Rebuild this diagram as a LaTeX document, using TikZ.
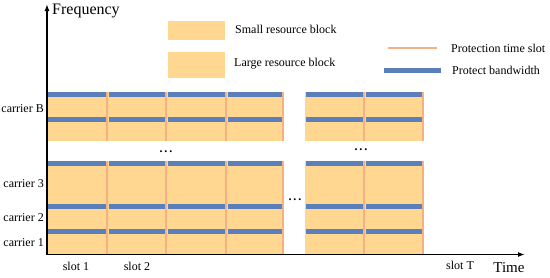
\documentclass[tikz,border=0pt]{standalone}
\usepackage{fontspec}
\setmainfont{Liberation Serif}
\usetikzlibrary{positioning,arrows.meta}
\definecolor{blockfill}{RGB}{255,215,145}
\definecolor{bandblue}{RGB}{91,127,186}
\definecolor{slotline}{RGB}{244,177,131}
\tikzset{
  lbl/.style={font=\fontsize{12}{14}\selectfont, inner sep=1pt},
  big/.style={font=\fontsize{16}{18}\selectfont, inner sep=0pt},
  band/.style={fill=bandblue},
  guard/.style={draw=slotline, line width=2.2pt},
  axis/.style={line width=1.6pt, -{Latex[length=7pt,width=5pt]}},
}
\begin{document}
\begin{tikzpicture}[x=1pt,y=-1pt]
  \useasboundingbox (0,0) rectangle (550,277);
  % resource blocks
  \fill[blockfill] (47,92) rectangle (283,141);
  \fill[blockfill] (47,161) rectangle (283,254);
  \fill[blockfill] (305,92) rectangle (423,141);
  \fill[blockfill] (305,161) rectangle (423,254);
  % protect bandwidth
  \foreach \a/\b in {46/107,107/166,166/226,226/283,304/364,364/423}
    \foreach \y in {92,117,161,204,229}
      \fill[band] (\a+1.5,\y) rectangle (\b-1.5,\y+5);
  % protection time slots
  \foreach \x in {107,166,226,283,364,423}
    \draw[guard] (\x,92) -- (\x,141) (\x,161) -- (\x,254);
  % axes
  \coordinate (O) at (47,254.5);
  \coordinate (ftop) at (47,4);
  \coordinate (tend) at (525,254.5);
  \draw[axis] (O) -- (ftop);
  \draw[axis] ([xshift=-0.8pt]O) -- (tend);
  \node[big, anchor=west] (freq) at (52,11) {Frequency};
  \node[font=\fontsize{15}{17}\selectfont, inner sep=0pt] (time) at (509,268) {Time};
  % carriers and slots
  \node[lbl, anchor=east] (carB) at (45,109) {carrier B};
  \node[lbl, anchor=east] (car3) at (45,184) {carrier 3};
  \node[lbl, anchor=east] (car2) at (45,218) {carrier 2};
  \node[lbl, anchor=east] (car1) at (45,243) {carrier 1};
  \node[lbl] (slot1) at (76,266) {slot 1};
  \node[lbl] (slot2) at (137,266) {slot 2};
  \node[lbl] (slotT) at (460,265) {slot T};
  \node[lbl] (dotsA) at (166,152) {\textbf{.\,.\,.}};
  \node[lbl] (dotsB) at (361,150) {\textbf{.\,.\,.}};
  \node[lbl] (dotsC) at (295,200) {\textbf{.\,.\,.}};
  % legend
  \fill[blockfill] (168,21) rectangle (225,40);
  \fill[blockfill] (168,52) rectangle (225,78);
  \node[lbl, anchor=west] (small) at (234,29) {Small resource block};
  \node[lbl, anchor=west] (large) at (233,64) {Large resource block};
  \coordinate (gA) at (388,48);
  \coordinate (gB) at (437,48);
  \coordinate (bA) at (384,70);
  \coordinate (bB) at (441,70);
  \draw[guard] (gA) -- (gB);
  \draw[draw=bandblue, line width=5pt] (bA) -- (bB);
  \node[lbl, anchor=west] (guardtxt) at (450,48) {Protection time slot};
  \node[lbl, anchor=west] (bandtxt) at (451,70) {Protect bandwidth};
\end{tikzpicture}
\end{document}
